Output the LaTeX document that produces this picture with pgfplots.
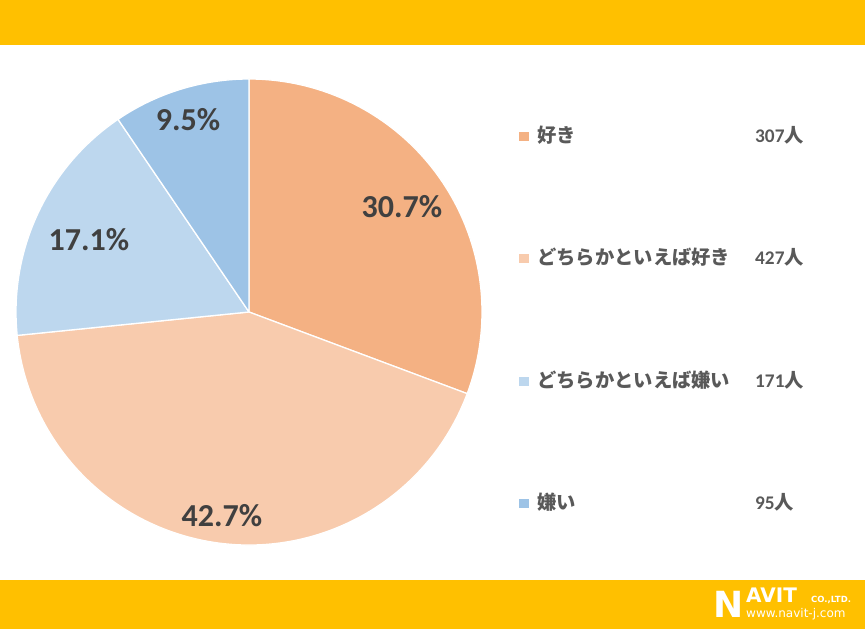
\documentclass[border=0pt]{standalone}
\usepackage{pgfplots}
\pgfplotsset{compat=1.18}
\usepackage{pgfplotstable}
\usepackage{fontspec}
\setmainfont{Carlito}
\newfontfamily\jp{Noto Sans CJK JP}
\newfontfamily\logofont{DejaVu Sans}

\definecolor{bandyellow}{HTML}{FFC000}
\definecolor{sliceA}{HTML}{F4B183}
\definecolor{sliceB}{HTML}{F8CBAD}
\definecolor{sliceC}{HTML}{BDD7EE}
\definecolor{sliceD}{HTML}{9DC3E6}
\definecolor{pctgray}{HTML}{404040}
\definecolor{leggray}{HTML}{595959}

% answers (people)
\pgfplotstableread{
idx count
0 307
1 427
2 171
3 95
}\piedata

\begin{document}
\begin{tikzpicture}
\pgfplotstablegetelem{0}{count}\of\piedata \let\nA\pgfplotsretval
\pgfplotstablegetelem{1}{count}\of\piedata \let\nB\pgfplotsretval
\pgfplotstablegetelem{2}{count}\of\piedata \let\nC\pgfplotsretval
\pgfplotstablegetelem{3}{count}\of\piedata \let\nD\pgfplotsretval
\pgfmathsetmacro\tot{\nA+\nB+\nC+\nD}
% slice boundaries, clockwise from 12 o'clock
\pgfmathsetmacro\aA{90}
\pgfmathsetmacro\aB{\aA-360*(\nA/\tot)}
\pgfmathsetmacro\aC{\aB-360*(\nB/\tot)}
\pgfmathsetmacro\aD{\aC-360*(\nC/\tot)}
\pgfmathsetmacro\aE{\aD-360*(\nD/\tot)}
\def\R{233bp}
\begin{axis}[
  width=865bp, height=629bp, scale only axis,
  xmin=0, xmax=865, ymin=0, ymax=629,
  hide axis, clip=false,
]
% bands
\fill[bandyellow] (axis cs:0,584) rectangle (axis cs:865,629);
\fill[bandyellow] (axis cs:0,0) rectangle (axis cs:865,49);

% pie
\foreach \s/\e/\c in {\aA/\aB/sliceA, \aB/\aC/sliceB, \aC/\aD/sliceC, \aD/\aE/sliceD}{
  \edef\temp{\noexpand\filldraw[fill=\c, draw=white, line width=1.3bp, line join=round]
    (axis cs:249,317) -- ([shift={(\s:\R)}]axis cs:249,317)
    arc[start angle=\s, end angle=\e, radius=\R] -- cycle;}
  \temp
}

% percentages
\begin{scope}[every node/.style={text=pctgray, font=\fontsize{32bp}{38bp}\selectfont\bfseries}]
\node at (axis cs:402,422) {30.7\%};
\node at (axis cs:222,113) {42.7\%};
\node at (axis cs:89,389) {17.1\%};
\node at (axis cs:188,509) {9.5\%};
\end{scope}

% legend
\fill[sliceA] (axis cs:519,488) rectangle (axis cs:529,497);
\fill[sliceB] (axis cs:519,366) rectangle (axis cs:529,375);
\fill[sliceC] (axis cs:519,243) rectangle (axis cs:529,252);
\fill[sliceD] (axis cs:519,121) rectangle (axis cs:529,130);
\begin{scope}[every node/.style={text=leggray, anchor=base west, inner sep=0pt, font=\fontsize{19.3bp}{23bp}\selectfont\bfseries}]
\node at (axis cs:537,486) {\jp\bfseries 好き};
\node at (axis cs:537,364) {\jp\bfseries どちらかといえば好き};
\node at (axis cs:537,241) {\jp\bfseries どちらかといえば嫌い};
\node at (axis cs:537,119) {\jp\bfseries 嫌い};
\node at (axis cs:755,486) {307{\jp\bfseries 人}};
\node at (axis cs:755,364) {427{\jp\bfseries 人}};
\node at (axis cs:755,241) {171{\jp\bfseries 人}};
\node at (axis cs:755,119) {95{\jp\bfseries 人}};
\end{scope}

% logo
\begin{scope}[every node/.style={text=white, anchor=base west, inner sep=0pt}]
\node[font=\logofont\fontsize{36bp}{36bp}\selectfont\bfseries] at (axis cs:713,12) {N};
\node[font=\logofont\fontsize{20bp}{20bp}\selectfont\bfseries] at (axis cs:746,26.5) {AVIT};
\node[font=\logofont\fontsize{8.5bp}{9bp}\selectfont\bfseries] at (axis cs:811,26.5) {CO.,LTD.};
\node[font=\logofont\fontsize{12bp}{13bp}\selectfont] at (axis cs:746,11.5) {www.navit-j.com};
\end{scope}
\end{axis}
\end{tikzpicture}
\end{document}
